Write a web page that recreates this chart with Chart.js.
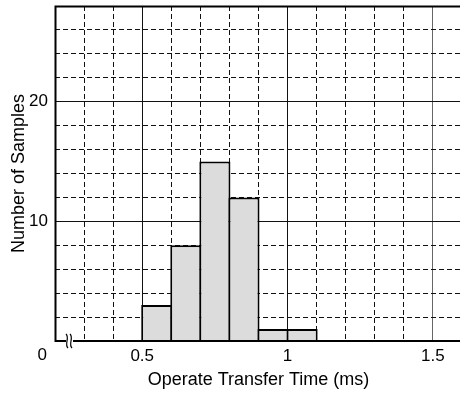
<!DOCTYPE html>
<html>
<head>
<meta charset="utf-8">
<script src="https://cdn.jsdelivr.net/npm/chart.js@4"></script>
<style>
  html, body { margin: 0; padding: 0; background: #fff; overflow: hidden; }
  #wrap { width: 462px; height: 394px; }
</style>
</head>
<body>
<div id="wrap"><canvas id="histo" width="462" height="394"></canvas></div>
<script>
// histogram bins (ms) and sample counts
var binStart = [0.5, 0.6, 0.7, 0.8, 0.9, 1.0];
var binWidth = 0.1;
var counts = [3, 8, 15, 12, 1, 1];
var xTickLabels = [0.5, 1, 1.5];
var yTickLabels = [10, 20];

var FONT = "'Liberation Sans', Arial, Helvetica, sans-serif";

function tenths(v){ return Math.round(v * 10); }

var points = [];
for(var i = 0; i < counts.length; i++){
    points.push({x: binStart[i] + binWidth / 2, y: counts[i]});
}

// frame, shared "0" origin label and the axis break mark
var framePlugin = {
    id: 'frame',
    afterDatasetsDraw: function(chart){
        var ctx = chart.ctx, a = chart.chartArea;
        ctx.save();
        ctx.strokeStyle = '#000';
        ctx.lineWidth = 2;
        ctx.beginPath();
        ctx.moveTo(a.right + 2, a.top + 0.5);
        ctx.lineTo(a.left + 0.5, a.top + 0.5);
        ctx.lineTo(a.left + 0.5, a.bottom);
        ctx.lineTo(a.right + 2, a.bottom);
        ctx.stroke();

        // break on the time axis
        var bx = a.left + 11;
        ctx.fillStyle = '#fff';
        ctx.fillRect(bx, a.bottom - 2, 7, 4);
        ctx.lineWidth = 1.2;
        [bx + 1, bx + 5].forEach(function(x){
            ctx.beginPath();
            ctx.moveTo(x - 1, a.bottom - 7);
            ctx.bezierCurveTo(x + 3, a.bottom - 3, x - 3, a.bottom + 3, x + 1, a.bottom + 7);
            ctx.stroke();
        });

        ctx.fillStyle = '#000';
        ctx.font = '17px ' + FONT;
        ctx.textAlign = 'right';
        ctx.textBaseline = 'middle';
        ctx.fillText('0', a.left - 8, a.bottom + 14);
        ctx.restore();
    }
};

new Chart(document.getElementById('histo'), {
    type: 'bar',
    data: {
        datasets: [{
            data: points,
            backgroundColor: '#dcdcdc',
            borderColor: '#000',
            borderWidth: 2,
            barPercentage: 1.07,
            categoryPercentage: 1
        }]
    },
    options: {
        responsive: false,
        animation: false,
        layout: { padding: { top: 6, right: 0, left: 0, bottom: 0 } },
        plugins: { legend: { display: false }, tooltip: { enabled: false } },
        scales: {
            x: {
                type: 'linear',
                min: 0.2,
                max: 1.6,
                offset: false,
                afterFit: function(s){
                    s.height = 53;
                    s.paddingLeft = 0;
                    s.paddingRight = 0;
                },
                border: {
                    display: false,
                    dash: function(c){
                        if(!c.tick) return [];
                        return tenths(c.tick.value) % 5 === 0 ? [] : [5, 3];
                    }
                },
                grid: {
                    offset: false,
                    drawTicks: false,
                    lineWidth: 1,
                    color: function(c){
                        if(!c.tick) return '#000';
                        var t = tenths(c.tick.value);
                        if(t === 2 || t === 16) return 'rgba(0,0,0,0)';
                        return t === 15 ? '#666' : '#111';
                    }
                },
                ticks: {
                    stepSize: 0.1,
                    autoSkip: false,
                    maxRotation: 0,
                    padding: 5,
                    color: '#000',
                    font: { family: FONT, size: 17 },
                    callback: function(v){
                        var t = tenths(v);
                        for(var i = 0; i < xTickLabels.length; i++){
                            if(tenths(xTickLabels[i]) === t) return String(xTickLabels[i]);
                        }
                        return '';
                    }
                },
                title: {
                    display: true,
                    text: 'Operate Transfer Time (ms)',
                    color: '#000',
                    font: { family: FONT, size: 18 },
                    padding: { top: 0, bottom: 3 }
                }
            },
            y: {
                min: 0,
                max: 28,
                afterFit: function(s){
                    s.width = 55;
                    s.paddingTop = 0;
                    s.paddingBottom = 0;
                },
                border: {
                    display: false,
                    dash: function(c){
                        if(!c.tick) return [];
                        return c.tick.value % 10 === 0 ? [] : [5, 3];
                    }
                },
                grid: {
                    drawTicks: false,
                    lineWidth: 1,
                    color: function(c){
                        if(!c.tick) return '#000';
                        var v = c.tick.value;
                        if(v === 0 || v === 28) return 'rgba(0,0,0,0)';
                        return '#111';
                    }
                },
                ticks: {
                    stepSize: 2,
                    padding: 7,
                    color: '#000',
                    font: { family: FONT, size: 17 },
                    callback: function(v){
                        return yTickLabels.indexOf(v) >= 0 ? String(v) : '';
                    }
                },
                title: {
                    display: true,
                    text: 'Number of Samples',
                    color: '#000',
                    font: { family: FONT, size: 18 },
                    padding: { top: 8, bottom: 0 }
                }
            }
        }
    },
    plugins: [framePlugin]
});
</script>
</body>
</html>
